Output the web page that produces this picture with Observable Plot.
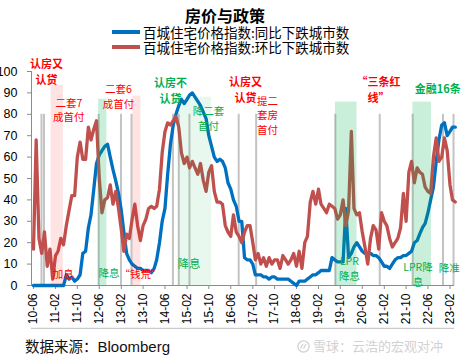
<!DOCTYPE html>
<html><head><meta charset="utf-8">
<script src="https://cdn.jsdelivr.net/npm/d3@7"></script>
<script src="https://cdn.jsdelivr.net/npm/@observablehq/plot@0.6"></script>
<style>
body{margin:0;background:#fff;}
#wrap{position:relative;width:461px;height:359px;overflow:hidden;background:#fff;}
#wrap svg{position:absolute;left:0;top:0;}
.t{position:absolute;white-space:nowrap;font-family:"Noto Sans CJK SC",sans-serif;}
#title{left:185px;top:4px;font-size:16px;font-weight:bold;line-height:22px;}
.lg{left:143px;font-size:13.5px;line-height:14px;}
.sw{position:absolute;left:112px;width:28px;height:4px;}
#src{left:25px;top:336px;font-size:14.5px;line-height:20px;color:#111;}
#src span{font-family:"Liberation Sans",sans-serif;font-size:15px;}
#wm{left:297px;top:337px;font-size:13px;line-height:18px;color:#d2d2d2;}
</style></head>
<body><div id="wrap"></div>
<script>
// ---- data ----
const seriesNames = ["百城住宅价格指数:同比下跌城市数", "百城住宅价格指数:环比下跌城市数"];
const yoyDecline = [
 0,0,0,0,0,0,0,0,0,0,
 0,0,5,3,4,2,3,5,15,16,
 27,33,45,57,61,63,65,66,60,54,
 49,43,35,25,15,12,10,9,8,8,
 7,7,7,6,8,12,20,30,36,52,
 66,75,80,84,87,85,87,89,90,88,
 86,84,81,78,70,65,60,58,59,58,
 55,48,45,40,37,30,30,13,12,12,
 10,5,5,5,4,4,3,4,4,3,
 3,3,3,3,2,1,0,2,2,2,
 3,4,5,5,6,7,7,7,7,13,
 12,11,11,11,36,13,15,18,20,18,
 16,15,15,15,14,14,13,11,9,9,
 8,10,12,13,13,14,14,15,16,20,
 21,24,27,29,34,40,46,58,68,75,
 76,70,72,74,74];
const momDecline = [
 17,68,22,15,25,9,17,3,14,16,
 22,19,28,35,42,42,60,67,59,59,
 74,68,73,77,50,34,40,41,47,38,
 44,36,26,16,24,22,31,38,28,21,
 28,31,36,37,36,37,45,62,72,76,
 75,77,79,74,62,57,60,55,58,55,
 52,57,49,44,53,56,44,39,39,38,
 28,25,23,33,25,23,20,25,28,28,
 20,12,15,10,13,9,13,10,12,12,
 8,14,12,10,12,15,9,16,8,20,
 23,39,44,38,45,38,36,34,38,37,
 36,31,33,40,28,35,72,36,33,34,
 25,18,10,22,28,26,17,34,30,28,
 22,18,20,22,27,43,30,53,58,48,
 55,53,52,46,44,43,60,69,58,60,
 69,63,47,40,39];
const xTickLabels = ["10-06","11-02","11-10","12-06","13-02","13-10","14-06","15-02","15-10","16-06","17-02","17-10","18-06","19-02","19-10","20-06","21-02","21-10","22-06","23-02"];
const yTicks = [0,10,20,30,40,50,60,70,80,90,100];
const policyDates = ["2010-08-29","2010-09-26","2012-05-25","2013-01-28","2013-05-25","2014-08-28","2014-11-01","2015-02-28","2016-08-28","2017-03-10","2019-08-07","2020-12-12","2021-12-13","2022-11-15","2023-03-12"];
const bandStart = ["2010-12-14","2013-06-10","2012-05-25","2014-11-01","2019-08-07","2021-12-16"];
const bandEnd   = ["2011-04-29","2013-09-07","2012-08-25","2015-11-01","2020-04-04","2022-07-09"];
const bandTop   = [93.5, 88.5, 87, 88, 85.7, 85.7];
const bandKind  = ["tight","tight","ease","easeLight","ease","ease"];
const redBoldText = ["认房又\n认贷","认房又\n认贷","“三条红\n线”"];
const redBoldDate = ["2010-10-23","2016-11-12","2020-11-28"];
const redBoldVal  = [100.2, 91.7, 91.7];
const redText = ["二套7\n成首付","二套6\n成首付","提二\n套房\n首付","加息","“钱荒”"];
const redDate = ["2011-06-29","2013-01-01","2017-07-15","2011-04-29","2013-09-02"];
const redVal  = [82.3, 88.8, 79.9, 5.7, 5.6];
const greenBoldText = ["认房不\n认贷","金融16条"];
const greenBoldDate = ["2014-08-01","2022-09-19"];
const greenBoldVal  = [91.4, 92.5];
const greenText = ["降二套\n首付","降息","LPR\n降息","LPR降\n息","降准"];
const greenDate = ["2015-09-27","2012-09-17","2020-01-10","2022-02-10","2023-01-25"];
const greenVal  = [78.3, 6, 8.4, 5.6, 8.4];
const greenBigText = ["降息"];
const greenBigDate = ["2015-02-23"];
const greenBigVal  = [9.8];
const source = "数据来源：";
const sourceName = "Bloomberg";
const watermark = "雪球：云浩的宏观对冲";

// ---- build ----
const pd = s => new Date(s + "T00:00:00Z");
const months = d3.utcMonth.range(new Date(Date.UTC(2010,5,1)), new Date(Date.UTC(2023,4,1)));
const table = months.map((d,i) => ({date: d, yoy: yoyDecline[i], mom: momDecline[i]}));
const tickDates = xTickLabels.map(l => pd("20" + l + "-01"));
const xDomain = [pd("2010-05-10"), pd("2023-03-23")];
const bands = bandStart.map((s,i) => ({x1: pd(s), x2: pd(bandEnd[i]), top: bandTop[i], kind: bandKind[i]}));
const bandFill = {tight: "#ff0000", ease: "#00b050", easeLight: "#00b050"};
const bandOp = {tight: 0.11, ease: 0.21, easeLight: 0.09};
const ann = (t, d, v) => t.map((s,i) => ({text: s, date: pd(d[i]), v: v[i]}));
const cjk = "'Noto Sans CJK SC', sans-serif";

const chart = Plot.plot({
  width: 461, height: 359,
  marginLeft: 31, marginRight: 7, marginTop: 71, marginBottom: 74,
  x: {type: "utc", domain: xDomain},
  y: {domain: [0, 100]},
  style: {fontFamily: "'Liberation Sans', Arial, sans-serif", background: "transparent", color: "#000"},
  marks: [
    Plot.ruleX(policyDates.map(pd), {y1: 0, y2: 80, stroke: "#c3c3c3", strokeWidth: 2}),
    Plot.ruleY([0], {stroke: "#8c8c8c"}),
    Plot.ruleY([-20], {stroke: "#bdbdbd"}),
    Plot.ruleX([xDomain[0]], {y1: 0, y2: 100, stroke: "#8c8c8c"}),
    Plot.axisX(tickDates, {text: null, tickSize: 4, stroke: "#8c8c8c"}),
    Plot.axisX(tickDates, {tickSize: 0, tickPadding: 8, tickRotate: -90, tickFormat: d3.utcFormat("%y-%m"), fontSize: 12, fill: "#000", label: null}),
    Plot.axisY(yTicks, {text: null, tickSize: 4, stroke: "#8c8c8c"}),
    Plot.axisY(yTicks, {tickSize: 0, tickPadding: 14, fontSize: 12.5, fill: "#000", label: null}),
    Plot.line(table, {x: "date", y: "yoy", stroke: "#0070c0", strokeWidth: 3.3, strokeLinejoin: "round"}),
    Plot.line(table, {x: "date", y: "mom", stroke: "#c0504d", strokeWidth: 3.3, strokeLinejoin: "round"}),
    Plot.rect(bands, {x1: "x1", x2: "x2", y1: 0, y2: "top", fill: d => bandFill[d.kind], fillOpacity: d => bandOp[d.kind]}),
    Plot.text(ann(redBoldText, redBoldDate, redBoldVal), {x: "date", y: "v", text: "text", fill: "#ff0000", fontWeight: "bold", fontSize: 11, lineHeight: 1.42, fontFamily: cjk}),
    Plot.text(ann(redText, redDate, redVal), {x: "date", y: "v", text: "text", fill: "#ff0000", fontSize: 10.5, lineHeight: 1.4, fontFamily: cjk}),
    Plot.text(ann(greenBoldText, greenBoldDate, greenBoldVal), {x: "date", y: "v", text: "text", fill: "#00b050", fontWeight: "bold", fontSize: 11, lineHeight: 1.42, fontFamily: cjk}),
    Plot.text(ann(greenText, greenDate, greenVal), {x: "date", y: "v", text: "text", fill: "#00b050", fontSize: 10.5, lineHeight: 1.4, fontFamily: cjk}),
    Plot.text(ann(greenBigText, greenBigDate, greenBigVal), {x: "date", y: "v", text: "text", fill: "#00b050", fontSize: 11.5, fontFamily: cjk})
  ]
});
const wrap = document.getElementById("wrap");
wrap.appendChild(chart);

function div(cls, id, html, style) {
  const e = document.createElement("div");
  e.className = cls; if (id) e.id = id; e.innerHTML = html;
  if (style) Object.assign(e.style, style);
  wrap.appendChild(e); return e;
}
div("t", "title", "房价与政策");
div("sw", null, "", {top: "30px", background: "#0070c0"});
div("sw", null, "", {top: "45px", background: "#c0504d"});
div("t lg", null, seriesNames[0], {top: "25px"});
div("t lg", null, seriesNames[1], {top: "40px"});
div("t", "src", source + "<span>" + sourceName + "</span>");
div("t", "wm", '<svg width="13" height="13" style="vertical-align:-2px;position:static;margin-right:3px"><circle cx="6.5" cy="6.5" r="5.6" fill="none" stroke="#d2d2d2" stroke-width="1.3"/><path d="M3.5 8.5 L6 4 M6.5 8.5 L9 4" stroke="#d2d2d2" stroke-width="1.3"/></svg>' + watermark);
</script>
</body></html>
